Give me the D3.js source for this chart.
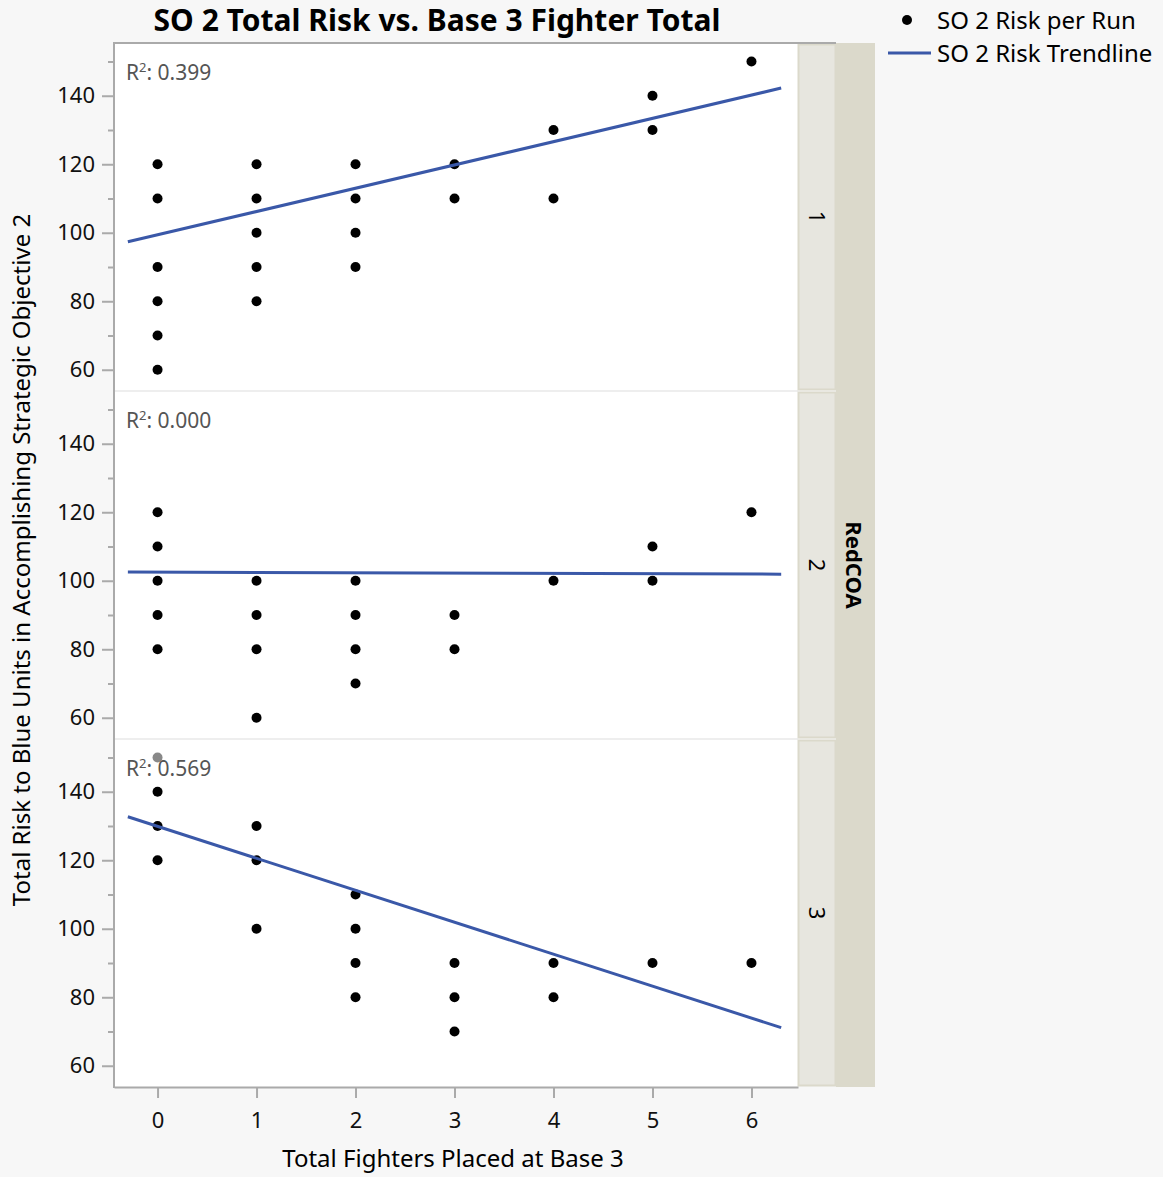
<!DOCTYPE html>
<html>
<head>
<meta charset="utf-8">
<script src="https://cdn.jsdelivr.net/npm/d3@7"></script>
<style>
  body { margin: 0; background: #f7f7f7; }
  svg, svg text { font-family: "Noto Sans", "Open Sans", sans-serif; }
</style>
</head>
<body>
<svg id="chart" width="1163" height="1177"></svg>
<script>
// panel categories (RedCOA)
var redCOA = ['1', '2', '3'];

// points per panel: x = fighters at base 3, y = total risk
var coa1X = [0, 0, 0, 0, 0, 0, 1, 1, 1, 1, 1, 2, 2, 2, 2, 3, 3, 4, 4, 5, 5, 6];
var coa1Y = [120, 110, 90, 80, 70, 60, 120, 110, 100, 90, 80, 120, 110, 100, 90, 120, 110, 130, 110, 140, 130, 150];
var coa2X = [0, 0, 0, 0, 0, 1, 1, 1, 1, 2, 2, 2, 2, 3, 3, 4, 5, 5, 6];
var coa2Y = [120, 110, 100, 90, 80, 100, 90, 80, 60, 100, 90, 80, 70, 90, 80, 100, 110, 100, 120];
var coa3X = [0, 0, 0, 0, 1, 1, 1, 2, 2, 2, 2, 3, 3, 3, 4, 4, 5, 6];
var coa3Y = [150, 140, 130, 120, 130, 120, 100, 110, 100, 90, 80, 90, 80, 70, 90, 80, 90, 90];
var coa3Faded = [true, false, false, false, false, false, false, false, false, false, false, false, false, false, false, false, false, false];

// trendline fit per panel
var trendIntercept = [99.4, 102.5, 129.9];
var trendSlope = [6.8, -0.09, -9.33];
var rSquared = ['0.399', '0.000', '0.569'];
var trendRange = [-0.3, 6.3];

var xTicks = [0, 1, 2, 3, 4, 5, 6];
var yMajor = [60, 80, 100, 120, 140];
var yMinor = [70, 90, 110, 130, 150];

var panels = [
  {x: coa1X, y: coa1Y, faded: []},
  {x: coa2X, y: coa2Y, faded: []},
  {x: coa3X, y: coa3Y, faded: coa3Faded}
];

var svg = d3.select('#chart');
var plotL = 114, plotR = 798, plotT = 43, panelH = 348;
var blue = '#3a58a8', axisGray = '#aaaaaa';
var font = '"Noto Sans", "Open Sans", sans-serif';

var x = d3.scaleLinear().domain([-0.44, 6.47]).range([plotL, plotR]);

svg.append('text')
  .attr('x', 437).attr('y', 31)
  .attr('text-anchor', 'middle')
  .style('font-size', '30px').style('font-weight', 'bold')
  .text('SO 2 Total Risk vs. Base 3 Fighter Total');

// outer strip
svg.append('rect')
  .attr('x', 836).attr('y', plotT).attr('width', 39).attr('height', panelH * 3)
  .attr('fill', '#dbd9cb');
svg.append('text')
  .attr('transform', 'translate(846,' + (plotT + panelH * 1.5) + ') rotate(90)')
  .attr('text-anchor', 'middle')
  .style('font-size', '22px').style('font-weight', 'bold')
  .text('RedCOA');

panels.forEach(function(p, i){
  var py = plotT + i * panelH;
  var y = d3.scaleLinear().domain([53.8, 155.4]).range([py + panelH, py]);
  var g = svg.append('g');

  g.append('rect')
    .attr('x', plotL).attr('y', py).attr('width', plotR - plotL).attr('height', panelH)
    .attr('fill', '#fff');
  if (i > 0) {
    g.append('line')
      .attr('x1', plotL).attr('x2', plotR).attr('y1', py).attr('y2', py)
      .attr('stroke', '#dddddd');
  }

  // inner strip
  g.append('rect')
    .attr('x', 798.5).attr('y', py + 1.5).attr('width', 37).attr('height', panelH - 3)
    .attr('fill', '#e7e6df').attr('stroke', '#dbd9cb').attr('stroke-width', 2);
  g.append('text')
    .attr('transform', 'translate(809,' + (py + panelH / 2) + ') rotate(90)')
    .attr('text-anchor', 'middle')
    .style('font-size', '22px')
    .text(redCOA[i]);

  // y axis ticks
  var yAxis = d3.axisLeft(y).tickValues(yMajor).tickSize(12).tickPadding(7);
  var ya = g.append('g').attr('transform', 'translate(' + plotL + ',0)').call(yAxis);
  ya.select('.domain').remove();
  ya.selectAll('line').attr('stroke', axisGray).attr('stroke-width', 2);
  ya.selectAll('text').style('font-size', '22px').style('font-family', font).attr('fill', '#111');
  var yMin = d3.axisLeft(y).tickValues(yMinor.filter(function(v){ return y(v) > py + 2; }))
    .tickSize(6).tickFormat('');
  var ym = g.append('g').attr('transform', 'translate(' + plotL + ',0)').call(yMin);
  ym.select('.domain').remove();
  ym.selectAll('line').attr('stroke', axisGray).attr('stroke-width', 2);

  g.selectAll('circle.pt')
    .data(p.x.map(function(v, k){ return {x: v, y: p.y[k], faded: p.faded[k]}; }))
    .enter().append('circle')
    .attr('class', 'pt')
    .attr('cx', function(d){ return x(d.x); })
    .attr('cy', function(d){ return y(d.y); })
    .attr('r', 5)
    .attr('fill', function(d){ return d.faded ? '#888888' : '#000'; });

  g.append('text')
    .attr('x', 126).attr('y', py + 37)
    .attr('fill', '#555')
    .style('font-size', '21px')
    .html('R<tspan dy="-8" font-size="13">2</tspan><tspan dy="8">: ' + rSquared[i] + '</tspan>');

  var line = d3.line()
    .x(function(d){ return x(d); })
    .y(function(d){ return y(trendIntercept[i] + trendSlope[i] * d); });
  g.append('path')
    .datum(trendRange)
    .attr('d', line)
    .attr('fill', 'none')
    .attr('stroke', blue)
    .attr('stroke-width', 3);
});

// plot frame
svg.append('line')
  .attr('x1', plotL).attr('x2', 836).attr('y1', plotT).attr('y2', plotT)
  .attr('stroke', axisGray).attr('stroke-width', 2);
svg.append('line')
  .attr('x1', plotL).attr('x2', plotL).attr('y1', plotT - 1).attr('y2', plotT + panelH * 3 + 1)
  .attr('stroke', axisGray).attr('stroke-width', 2);

// x axis
var xa = svg.append('g')
  .attr('transform', 'translate(0,' + (plotT + panelH * 3) + ')')
  .call(d3.axisBottom(x).tickValues(xTicks).tickFormat(d3.format('d'))
    .tickSize(11).tickSizeOuter(0).tickPadding(14));
xa.select('.domain').attr('stroke', axisGray).attr('stroke-width', 2);
xa.selectAll('line').attr('stroke', axisGray).attr('stroke-width', 2);
xa.selectAll('text').style('font-size', '22px').style('font-family', font).attr('fill', '#111');

svg.append('text')
  .attr('x', 453).attr('y', 1167)
  .attr('text-anchor', 'middle')
  .style('font-size', '24px')
  .text('Total Fighters Placed at Base 3');

svg.append('text')
  .attr('transform', 'translate(30,560) rotate(-90)')
  .attr('text-anchor', 'middle')
  .style('font-size', '24px')
  .text('Total Risk to Blue Units in Accomplishing Strategic Objective 2');

// legend
var lg = svg.append('g');
lg.append('circle').attr('cx', 907).attr('cy', 20).attr('r', 5).attr('fill', '#000');
lg.append('text').attr('x', 937).attr('y', 29).style('font-size', '24px').text('SO 2 Risk per Run');
lg.append('line').attr('x1', 888).attr('x2', 931).attr('y1', 53).attr('y2', 53)
  .attr('stroke', blue).attr('stroke-width', 3);
lg.append('text').attr('x', 937).attr('y', 62).style('font-size', '24px').text('SO 2 Risk Trendline');
</script>
</body>
</html>
